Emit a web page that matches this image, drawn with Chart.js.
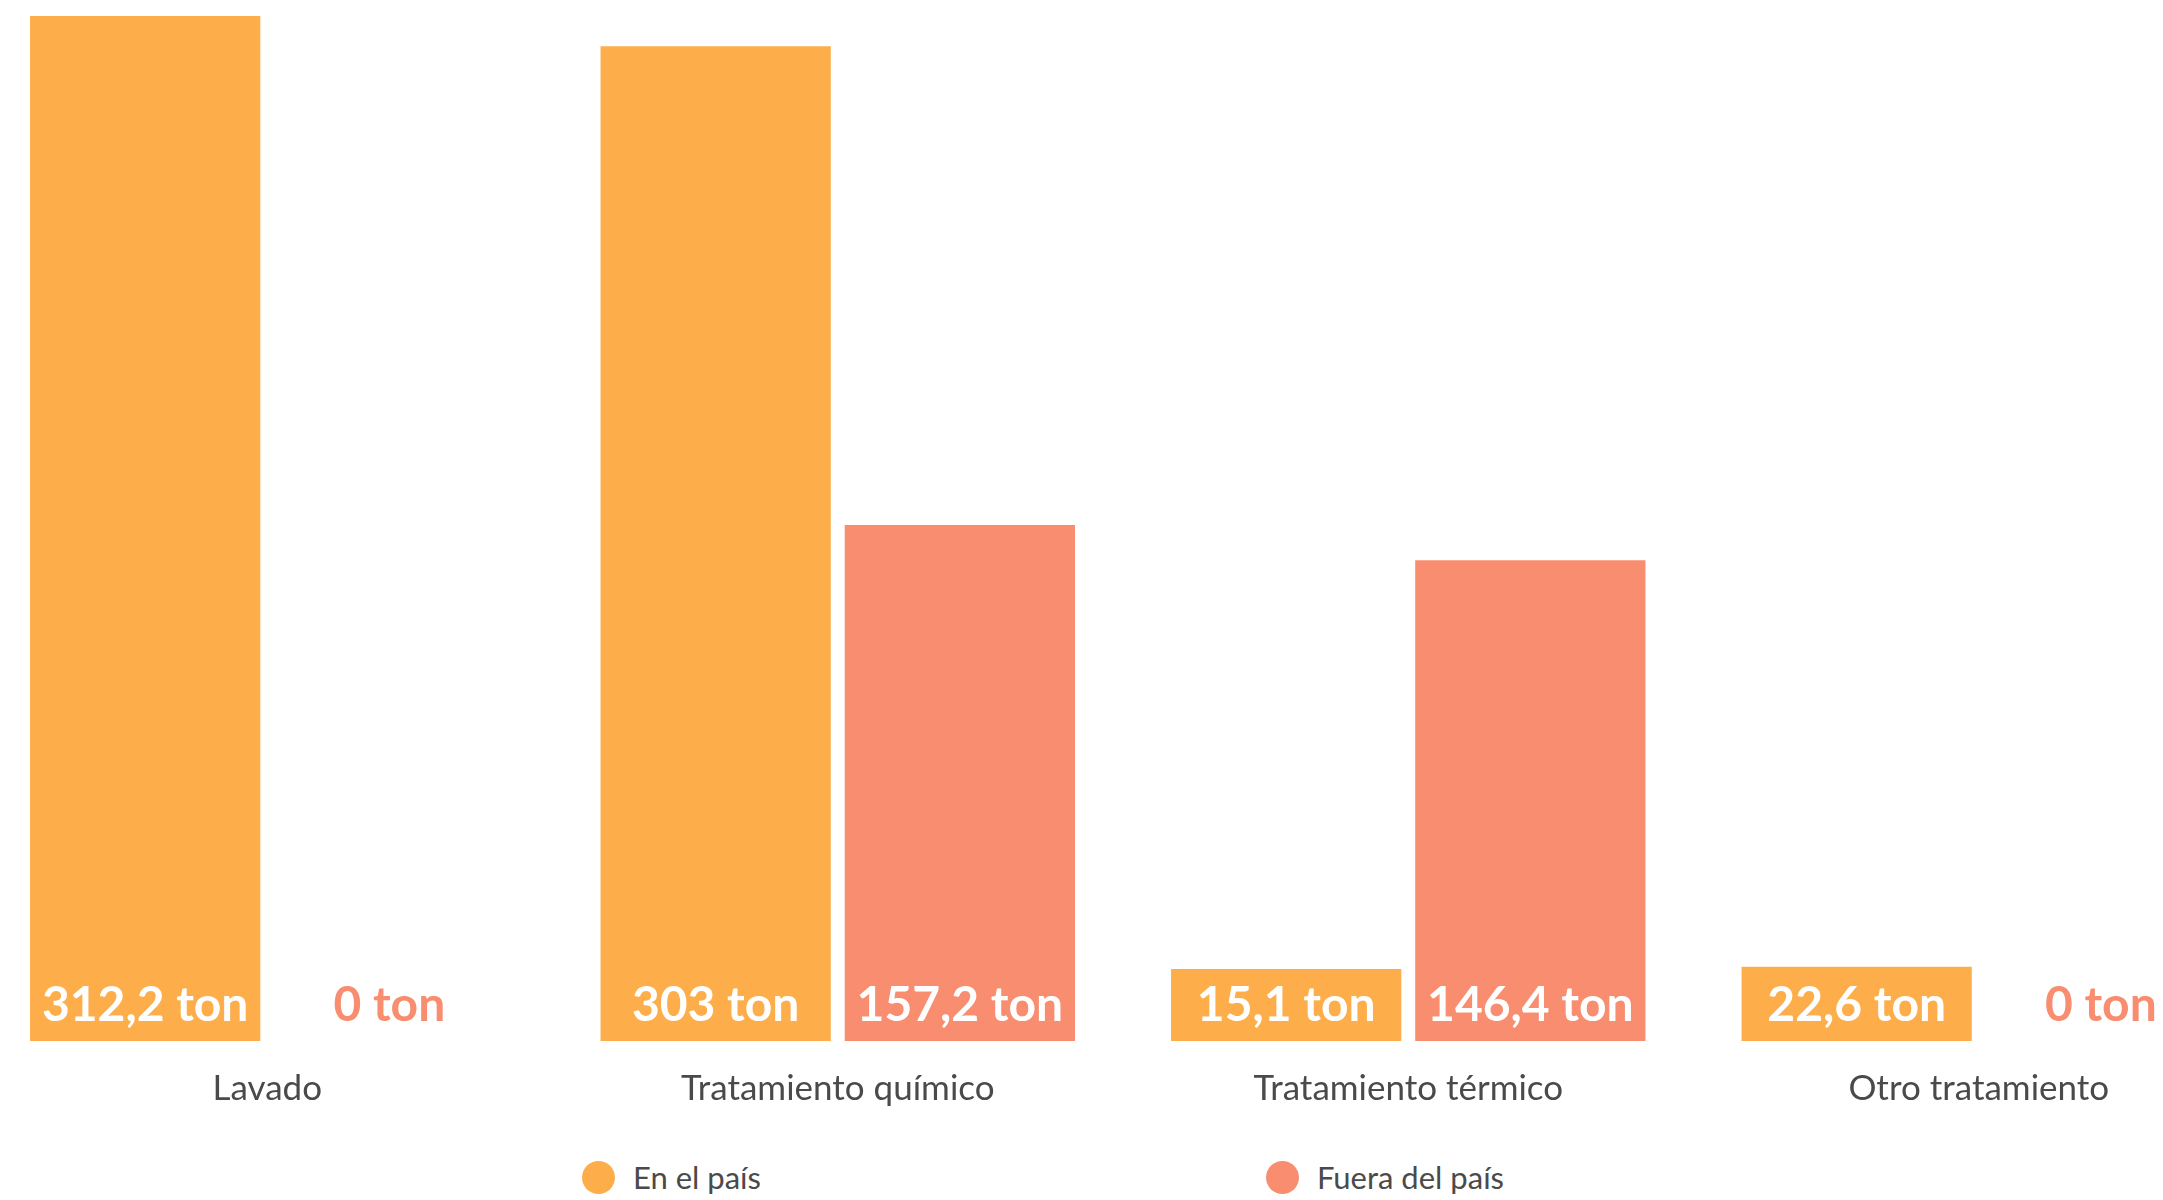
<!DOCTYPE html>
<html><head><meta charset="utf-8">
<script src="https://cdn.jsdelivr.net/npm/chart.js@4.4.1/dist/chart.umd.min.js"></script>
<style>
html,body{margin:0;padding:0;background:#fff;overflow:hidden;width:2163px;height:1200px;}
#wrap{position:absolute;left:-18px;top:0;}
#legend{position:absolute;left:582px;top:1160px;display:flex;gap:505px;font-family:Lato, sans-serif;font-size:31px;color:#4a4a4a;line-height:34px;}
.item{display:flex;align-items:center;}
.dot{width:33px;height:33px;border-radius:50%;margin-right:18px;}
</style></head><body>
<div id="wrap"><canvas id="c" width="2282" height="1129"></canvas></div>
<div id="legend"></div>
<script>
const categories = ['Lavado', 'Tratamiento químico', 'Tratamiento térmico', 'Otro tratamiento'];
const seriesNames = ['En el país', 'Fuera del país'];
const enElPais = [312.2, 303, 15.1, 22.6];
const fueraDelPais = [0, 157.2, 146.4, 0];
const seriesColors = ['#FDAE4A', '#F88D6F'];
const unitSuffix = ' ton';

function fmt(v){ return String(v).replace('.', ',') + unitSuffix; }

const valueLabels = {
  id: 'valueLabels',
  afterDatasetsDraw(chart){
    const ctx = chart.ctx;
    const yScale = chart.scales.y;
    ctx.save();
    ctx.font = 'bold 48px Lato';
    ctx.textAlign = 'center';
    ctx.textBaseline = 'alphabetic';
    chart.data.datasets.forEach((ds, i) => {
      const meta = chart.getDatasetMeta(i);
      meta.data.forEach((bar, j) => {
        const v = ds.data[j];
        const base = yScale.getPixelForValue(0);
        ctx.fillStyle = v > 0 ? '#ffffff' : seriesColors[i];
        ctx.fillText(fmt(v), bar.x, base - 20);
      });
    });
    ctx.restore();
  }
};

const datasets = [enElPais, fueraDelPais].map((d, i) => ({
  label: seriesNames[i],
  data: d,
  backgroundColor: ctx => (ctx.raw > 0 ? seriesColors[i] : 'rgba(0,0,0,0)'),
  borderWidth: 0,
  minBarLength: 72,
  categoryPercentage: 0.856,
  barPercentage: 0.943
}));

const chart = new Chart(document.getElementById('c'), {
  type: 'bar',
  data: { labels: categories, datasets },
  options: {
    responsive: false,
    animation: false,
    devicePixelRatio: 1,
    layout: { padding: { top: 16, left: 0, right: 0, bottom: 0 } },
    plugins: { legend: { display: false }, tooltip: { enabled: false } },
    scales: {
      x: {
        grid: { display: false },
        border: { display: false },
        ticks: { color: '#4a4a4a', font: { family: 'Lato', size: 35 }, padding: 19, maxRotation: 0, autoSkip: false }
      },
      y: { display: false, min: 0, max: 312.2 }
    }
  },
  plugins: [valueLabels]
});

const legend = document.getElementById('legend');
chart.data.datasets.forEach((ds, i) => {
  const item = document.createElement('div');
  item.className = 'item';
  const dot = document.createElement('span');
  dot.className = 'dot';
  dot.style.background = seriesColors[i];
  const txt = document.createElement('span');
  txt.textContent = ds.label;
  item.appendChild(dot); item.appendChild(txt);
  legend.appendChild(item);
});
</script>
</body></html>
